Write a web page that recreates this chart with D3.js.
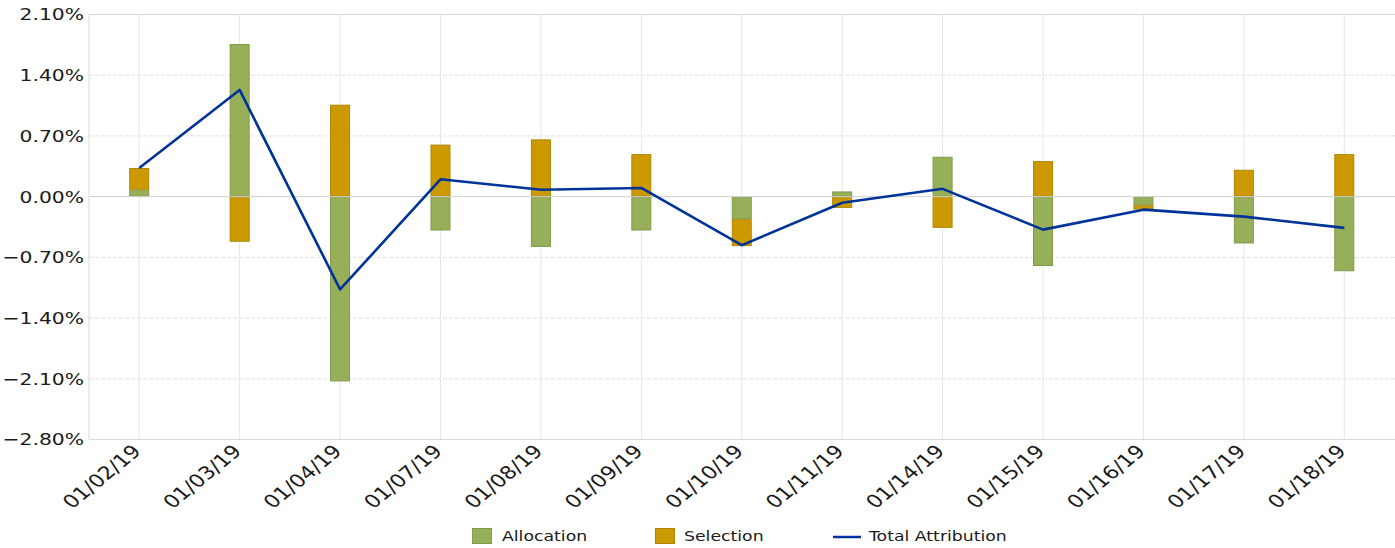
<!DOCTYPE html>
<html>
<head>
<meta charset="utf-8">
<script src="https://cdn.jsdelivr.net/npm/d3@7"></script>
<style>
  html, body { margin: 0; padding: 0; background: #fff; }
  svg { display: block; }
  text { font-family: "DejaVu Sans", sans-serif; fill: #1a1a1a; }
</style>
</head>
<body>
<svg id="chart" width="1395" height="548"></svg>
<script>
const categories = ["01/02/19","01/03/19","01/04/19","01/07/19","01/08/19","01/09/19","01/10/19","01/11/19","01/14/19","01/15/19","01/16/19","01/17/19","01/18/19"];
const allocation = [0.08, 1.76, -2.13, -0.39, -0.58, -0.39, -0.26, 0.06, 0.46, -0.80, -0.10, -0.54, -0.86];
const selection  = [0.25, -0.52, 1.06, 0.60, 0.66, 0.49, -0.31, -0.13, -0.36, 0.41, -0.05, 0.31, 0.49];
const totalAttribution = [0.33, 1.23, -1.07, 0.20, 0.08, 0.10, -0.56, -0.07, 0.09, -0.38, -0.15, -0.23, -0.36];
const yTicks = [-2.8, -2.1, -1.4, -0.7, 0.0, 0.7, 1.4, 2.1];
const seriesNames = ["Allocation", "Selection", "Total Attribution"];
const colors = { Allocation: "#98af5a", Selection: "#cc9900", "Total Attribution": "#003399" };
const strokes = { Allocation: "#7f9a48", Selection: "#b08600" };

const svg = d3.select("#chart");
const pLeft = 89, pRight = 1394.5, pTop = 14.5, pBottom = 439.5;
const sx = 1.23; // horizontal text stretch

const x = d3.scaleBand().domain(categories).range([pLeft, pRight]).padding(0);
const y = d3.scaleLinear().domain([-2.8, 2.1]).range([pBottom, pTop]);
const cx = d => x(d) + x.bandwidth() / 2;

// grid
const grid = svg.append("g");
grid.selectAll("line.h").data(yTicks.filter(t => t !== 0 && t !== -2.8 && t !== 2.1)).join("line")
  .attr("x1", pLeft).attr("x2", 1395)
  .attr("y1", d => y(d)).attr("y2", d => y(d))
  .attr("stroke", "#e0e0e0").attr("stroke-dasharray", "4,2").attr("stroke-width", 1);
grid.selectAll("line.v").data(categories).join("line")
  .attr("x1", d => cx(d)).attr("x2", d => cx(d))
  .attr("y1", pTop).attr("y2", pBottom)
  .attr("stroke", "#e6e6e6").attr("stroke-width", 1);
grid.append("line").attr("x1", pLeft).attr("x2", 1395).attr("y1", pTop).attr("y2", pTop).attr("stroke", "#d9d9d9");
grid.append("line").attr("x1", pLeft).attr("x2", 1395).attr("y1", pBottom).attr("y2", pBottom).attr("stroke", "#d9d9d9");
grid.append("line").attr("x1", pLeft).attr("x2", pLeft).attr("y1", pTop).attr("y2", pBottom).attr("stroke", "#d9d9d9");

// stacked bars
const rows = categories.map((c, i) => ({ cat: c, Allocation: allocation[i], Selection: selection[i] }));
const stack = d3.stack().keys(["Allocation", "Selection"]).offset(d3.stackOffsetDiverging);
const layers = stack(rows);
const barW = 20;
svg.append("g").selectAll("g").data(layers).join("g")
  .attr("fill", d => colors[d.key]).attr("stroke", d => strokes[d.key]).attr("stroke-width", 1)
  .selectAll("rect").data(d => d).join("rect")
  .attr("x", d => cx(d.data.cat) - barW / 2 + 0.5)
  .attr("width", barW - 1)
  .attr("y", d => y(Math.max(d[0], d[1])) + 0.5)
  .attr("height", d => Math.max(0, Math.abs(y(d[0]) - y(d[1])) - 1));

// zero line
svg.append("line").attr("x1", pLeft).attr("x2", 1395).attr("y1", y(0)).attr("y2", y(0))
  .attr("stroke", "#d0d0d0").attr("stroke-width", 1);

// total line
const line = d3.line().x((d, i) => cx(categories[i])).y(d => y(d));
svg.append("path").datum(totalAttribution).attr("d", line)
  .attr("fill", "none").attr("stroke", colors["Total Attribution"]).attr("stroke-width", 2.6)
  .attr("stroke-linejoin", "round");

// y axis labels
const fmt = d3.format(".2f");
svg.append("g").selectAll("text").data(yTicks).join("text")
  .attr("transform", d => `translate(84,${y(d)}) scale(${sx},1)`)
  .attr("dy", "0.36em")
  .attr("text-anchor", "end")
  .style("font-size", "16.5px")
  .text(d => fmt(d) + "%");

// x axis labels
svg.append("g").selectAll("text").data(categories).join("text")
  .attr("transform", d => `translate(${cx(d) + 3},${pBottom + 13}) scale(${sx},1) rotate(-45)`)
  .attr("text-anchor", "end")
  .style("font-size", "18px")
  .text(d => d);

// legend
const lg = svg.append("g");
const legendText = (xPos, label) => lg.append("text")
  .attr("transform", `translate(${xPos},541) scale(1.28,1)`)
  .style("font-size", "13.5px").text(label);
lg.append("rect").attr("x", 472.5).attr("y", 528.5).attr("width", 19).attr("height", 15)
  .attr("fill", colors.Allocation).attr("stroke", strokes.Allocation);
legendText(502, seriesNames[0]);
lg.append("rect").attr("x", 655.5).attr("y", 528.5).attr("width", 19).attr("height", 15)
  .attr("fill", colors.Selection).attr("stroke", strokes.Selection);
legendText(684, seriesNames[1]);
lg.append("line").attr("x1", 833).attr("x2", 861).attr("y1", 537).attr("y2", 537)
  .attr("stroke", colors["Total Attribution"]).attr("stroke-width", 2.5);
legendText(869, seriesNames[2]);
</script>
</body>
</html>
